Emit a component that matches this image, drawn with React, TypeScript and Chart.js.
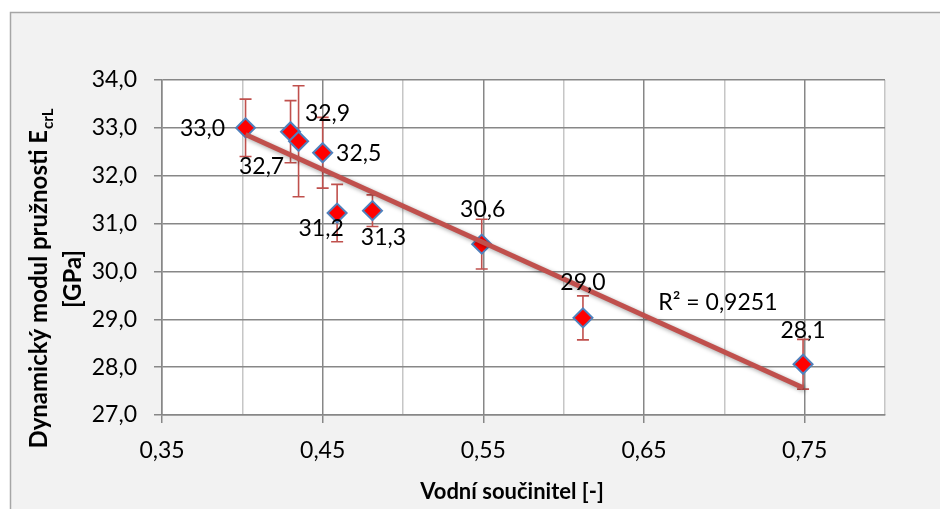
import React, { useEffect, useRef } from "react";
import { Chart, registerables } from "chart.js";

Chart.register(...registerables);

// ---- data ----
const WATER_CEMENT = [0.402, 0.43, 0.435, 0.45, 0.459, 0.481, 0.549, 0.612, 0.749];
const E_MODULUS = [33.0, 32.92, 32.72, 32.48, 31.22, 31.27, 30.57, 29.03, 28.06];
const E_ERROR = [0.6, 0.65, 1.16, 0.74, 0.6, 0.33, 0.52, 0.46, 0.52];
const R2_TEXT = "R² = 0,9251";
const R2_ANCHOR = [0.696, 29.34];
const X_RANGE = [0.35, 0.8];
const X_STEP = 0.05;
const X_LABEL_STEP = 0.1;
const Y_RANGE = [27, 34];
const Y_STEP = 1;
const X_TITLE = "Vodní součinitel [-]";
const Y_TITLE_MAIN = "Dynamický modul pružnosti E";
const Y_TITLE_SUB = "crL";
const Y_TITLE_UNIT = "[GPa]";

// label placement (px offsets from each point)
const LABEL_OFFSETS = [
  [-43, 1],
  [37, -18],
  [-37, 25],
  [36, 1],
  [-16, 16],
  [11, 27],
  [1, -35],
  [0, -35],
  [0, -34],
];

const FONT = "Lato, 'Open Sans', sans-serif";
const GRID_MAJOR = "#878787";
const GRID_MINOR = "#c6c6c6";
const RED_LINE = "#c0504d";

function fmt(v: number, d: number) {
  return v.toFixed(d).replace(".", ",");
}

function isMajorX(v: number) {
  const k = (v - X_RANGE[0]) / X_LABEL_STEP;
  return Math.abs(k - Math.round(k)) < 1e-6;
}

function regression(xs: number[], ys: number[]) {
  const n = xs.length;
  const mx = xs.reduce((a, b) => a + b, 0) / n;
  const my = ys.reduce((a, b) => a + b, 0) / n;
  let sxy = 0;
  let sxx = 0;
  for (let i = 0; i < n; i++) {
    sxy += (xs[i] - mx) * (ys[i] - my);
    sxx += (xs[i] - mx) * (xs[i] - mx);
  }
  const b = sxy / sxx;
  return { a: my - b * mx, b };
}

const decorPlugin = {
  id: "decor",
  beforeDraw(chart: any) {
    const { ctx, chartArea: a, width, height } = chart;
    ctx.save();
    ctx.fillStyle = "#ffffff";
    ctx.fillRect(0, 0, width, height);
    ctx.fillStyle = "#f2f2f2";
    ctx.fillRect(10, 12, width - 10, height - 12);
    ctx.strokeStyle = "#a6a6a6";
    ctx.lineWidth = 1.5;
    ctx.beginPath();
    ctx.moveTo(10.5, height);
    ctx.lineTo(10.5, 12.5);
    ctx.lineTo(width, 12.5);
    ctx.stroke();
    ctx.fillStyle = "#ffffff";
    ctx.fillRect(a.left, a.top, a.right - a.left, a.bottom - a.top);
    ctx.restore();
  },
  beforeDatasetsDraw(chart: any) {
    const { ctx, scales } = chart;
    const xs = scales.x;
    const ys = scales.y;
    ctx.save();
    ctx.strokeStyle = RED_LINE;
    ctx.lineWidth = 1.6;
    WATER_CEMENT.forEach((x, i) => {
      const px = xs.getPixelForValue(x);
      const top = ys.getPixelForValue(E_MODULUS[i] + E_ERROR[i]);
      const bot = ys.getPixelForValue(E_MODULUS[i] - E_ERROR[i]);
      ctx.beginPath();
      ctx.moveTo(px, top);
      ctx.lineTo(px, bot);
      ctx.moveTo(px - 6, top);
      ctx.lineTo(px + 6, top);
      ctx.moveTo(px - 6, bot);
      ctx.lineTo(px + 6, bot);
      ctx.stroke();
    });
    ctx.restore();
  },
  beforeDatasetDraw(chart: any, args: any) {
    if (args.index === 0) {
      const ctx = chart.ctx;
      ctx.save();
      ctx.shadowColor = "rgba(0,0,0,0.35)";
      ctx.shadowBlur = 4;
      ctx.shadowOffsetX = 2;
      ctx.shadowOffsetY = 2;
    }
  },
  afterDatasetDraw(chart: any, args: any) {
    if (args.index === 0) chart.ctx.restore();
  },
  afterDraw(chart: any) {
    const { ctx, scales } = chart;
    const xs = scales.x;
    const ys = scales.y;
    ctx.save();
    ctx.fillStyle = "#000000";
    ctx.font = `23px ${FONT}`;
    ctx.textAlign = "center";
    ctx.textBaseline = "middle";
    WATER_CEMENT.forEach((x, i) => {
      const px = xs.getPixelForValue(x) + LABEL_OFFSETS[i][0];
      const py = ys.getPixelForValue(E_MODULUS[i]) + LABEL_OFFSETS[i][1];
      ctx.fillText(fmt(E_MODULUS[i], 1), px, py);
    });
    // R2
    ctx.fillText(R2_TEXT, xs.getPixelForValue(R2_ANCHOR[0]), ys.getPixelForValue(R2_ANCHOR[1]));

    // x title
    ctx.font = `bold 22px ${FONT}`;
    ctx.fillText(X_TITLE, 512, 492);

    // y title
    ctx.translate(0, 279);
    ctx.rotate(-Math.PI / 2);
    ctx.textBaseline = "alphabetic";
    ctx.font = `bold 24px ${FONT}`;
    const wMain = ctx.measureText(Y_TITLE_MAIN).width;
    ctx.font = `bold 15px ${FONT}`;
    const wSub = ctx.measureText(Y_TITLE_SUB).width;
    const start = -(wMain + wSub) / 2;
    ctx.textAlign = "left";
    ctx.font = `bold 24px ${FONT}`;
    ctx.fillText(Y_TITLE_MAIN, start, 47);
    ctx.font = `bold 15px ${FONT}`;
    ctx.fillText(Y_TITLE_SUB, start + wMain + 1, 53);
    ctx.textAlign = "center";
    ctx.font = `bold 24px ${FONT}`;
    ctx.fillText(Y_TITLE_UNIT, 0, 81);
    ctx.restore();
  },
};

export default function App() {
  const ref = useRef<HTMLCanvasElement | null>(null);
  useEffect(() => {
    if (!ref.current) return;
    const fit = regression(WATER_CEMENT, E_MODULUS);
    const xMin = Math.min(...WATER_CEMENT);
    const xMax = Math.max(...WATER_CEMENT);
    const chart = new Chart(ref.current, {
      type: "scatter",
      data: {
        datasets: [
          {
            label: "trend",
            data: [
              { x: xMin, y: fit.a + fit.b * xMin },
              { x: xMax, y: fit.a + fit.b * xMax },
            ],
            showLine: true,
            borderColor: RED_LINE,
            borderWidth: 5,
            pointRadius: 0,
            order: 0,
          },
          {
            label: "data",
            data: WATER_CEMENT.map((x, i) => ({ x, y: E_MODULUS[i] })),
            pointStyle: "rectRot",
            pointRadius: 9.5,
            pointBackgroundColor: "#ff0000",
            pointBorderColor: "#4f81bd",
            pointBorderWidth: 2,
            order: 1,
          },
        ],
      },
      options: {
        animation: false,
        responsive: false,
        devicePixelRatio: 1,
        layout: { padding: { top: 80, right: 55, left: 0, bottom: 0 } },
        plugins: {
          legend: { display: false },
          tooltip: { enabled: false },
        },
        scales: {
          x: {
            type: "linear",
            min: X_RANGE[0],
            max: X_RANGE[1],
            afterFit: (s: any) => {
              s.height = 94;
            },
            ticks: {
              stepSize: X_STEP,
              autoSkip: false,
              maxRotation: 0,
              padding: 14,
              color: "#000",
              font: { family: FONT, size: 23 },
              callback: (v: any) => (isMajorX(Number(v)) ? fmt(Number(v), 2) : ""),
            },
            grid: {
              color: (c: any) => (isMajorX(c.tick.value) ? GRID_MAJOR : GRID_MINOR),
              tickColor: (c: any) => (isMajorX(c.tick.value) ? GRID_MAJOR : "rgba(0,0,0,0)"),
              lineWidth: 1.5,
              tickLength: 8,
            },
            border: { color: GRID_MAJOR, width: 1.5 },
          },
          y: {
            type: "linear",
            min: Y_RANGE[0],
            max: Y_RANGE[1],
            afterFit: (s: any) => {
              s.width = 162;
            },
            ticks: {
              stepSize: Y_STEP,
              padding: 17,
              color: "#000",
              font: { family: FONT, size: 23 },
              callback: (v: any) => fmt(Number(v), 1),
            },
            grid: {
              color: GRID_MAJOR,
              tickColor: GRID_MAJOR,
              lineWidth: 1.5,
              tickLength: 8,
            },
            border: { color: GRID_MAJOR, width: 1.5 },
          },
        },
      },
      plugins: [decorPlugin],
    });
    return () => chart.destroy();
  }, []);
  return (
    <div style={{ position: "absolute", left: 0, top: 0, width: 940, height: 509 }}>
      <canvas ref={ref} width={940} height={509} />
    </div>
  );
}
